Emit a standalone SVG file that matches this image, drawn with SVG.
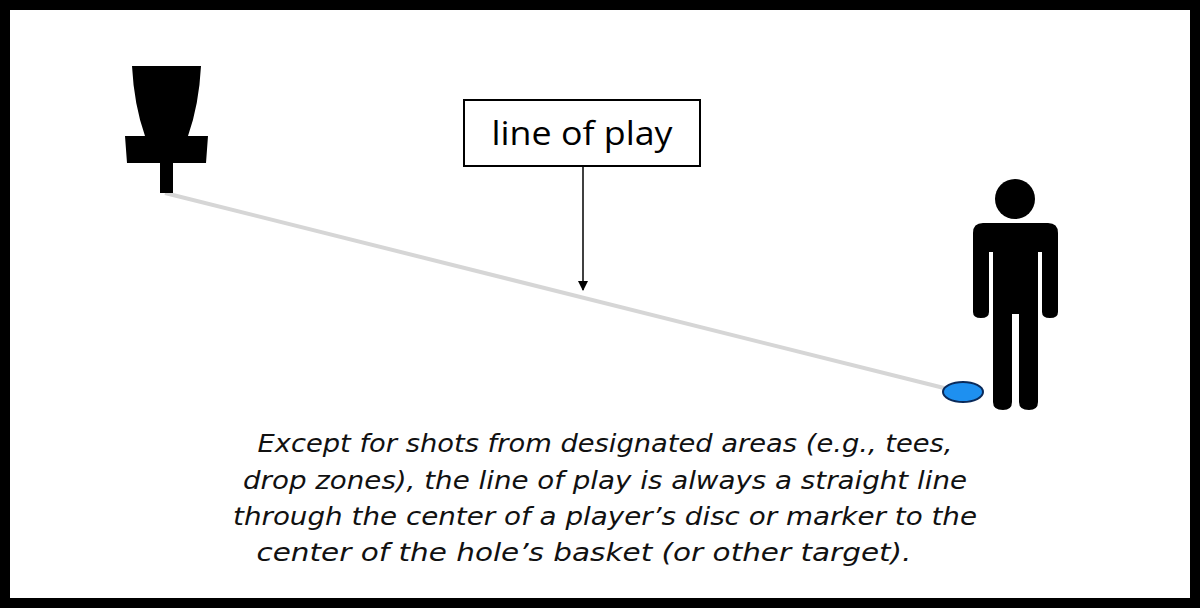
<svg xmlns="http://www.w3.org/2000/svg" width="1200" height="608" viewBox="0 0 1200 608">
<defs><marker id="ah" markerWidth="10" markerHeight="10" refX="9" refY="5" orient="auto" markerUnits="userSpaceOnUse"><path d="M0,0 L10,5 L0,10 z" fill="#000"/></marker>
<style>.t{font-family:"DejaVu Sans","Liberation Sans",sans-serif;font-style:italic;font-size:25px;fill:#111;text-anchor:middle}</style></defs>
<rect x="5" y="5" width="1190" height="598" fill="#fff" stroke="#000" stroke-width="10"/>
<g id="connectors">
<line x1="165" y1="193" x2="948" y2="389" stroke="#d6d6d6" stroke-width="4"/>
<line x1="583" y1="166" x2="583" y2="290" stroke="#000" stroke-width="1.5" marker-end="url(#ah)"/>
</g>
<g id="basket" fill="#000">
<path d="M132,66 L201,66 Q199,105 188,136 L208,136 L206,163 L127,163 L125,136 L145,136 Q134,105 132,66 z"/>
<rect x="160" y="162" width="13" height="31"/>
</g>
<g id="label"><rect x="464" y="100" width="236" height="66" fill="#fff" stroke="#000" stroke-width="2"/>
<text x="582" y="145" textLength="181" lengthAdjust="spacingAndGlyphs" style="font-family:'Open Sans','Liberation Sans',sans-serif;font-size:33px;text-anchor:middle">line of play</text></g>
<g id="player" fill="#000">
<circle cx="1015" cy="199" r="20"/>
<path d="M983,223 L1048,223 Q1058,223 1058,233 L1058,312 Q1058,318 1050,318 Q1042,318 1042,312 L1042,252 L1038,252 L1038,402 Q1038,410 1029,410 Q1019,410 1019,402 L1019,314 L1012,314 L1012,402 Q1012,410 1003,410 Q993,410 993,402 L993,252 L989,252 L989,312 Q989,318 981,318 Q973,318 973,312 L973,233 Q973,223 983,223 z"/>
</g>
<g id="disc"><ellipse cx="963" cy="392" rx="20" ry="10" fill="#1e90f0" stroke="#0a2a5a" stroke-width="2"/></g>
<g id="caption">
<text class="t" x="605" y="452" textLength="695" lengthAdjust="spacingAndGlyphs">Except for shots from designated areas (e.g., tees,</text>
<text class="t" x="605" y="489" textLength="724" lengthAdjust="spacingAndGlyphs">drop zones), the line of play is always a straight line</text>
<text class="t" x="605" y="525" textLength="744" lengthAdjust="spacingAndGlyphs">through the center of a player’s disc or marker to the</text>
<text class="t" x="584" y="561" textLength="655" lengthAdjust="spacingAndGlyphs">center of the hole’s basket (or other target).</text>
</g>
</svg>
